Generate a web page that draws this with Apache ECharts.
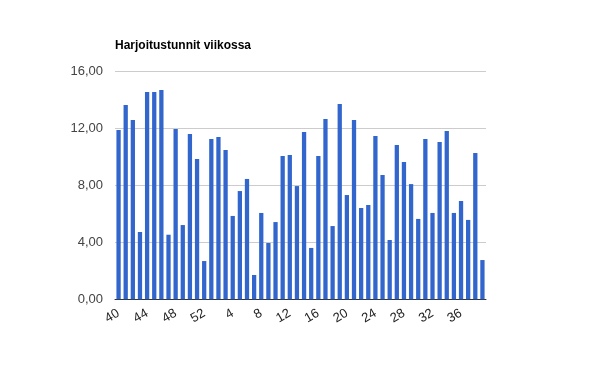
<!DOCTYPE html>
<html><head><meta charset="utf-8">
<script src="https://cdn.jsdelivr.net/npm/echarts@6/dist/echarts.min.js"></script>
<style>html,body{margin:0;padding:0;background:#fff}#c{width:600px;height:371px}</style>
</head><body><div id="c"></div>
<script>
var weeks = [40,41,42,43,44,45,46,47,48,49,50,51,52,1,2,3,4,5,6,7,8,9,10,11,12,13,14,15,16,17,18,19,20,21,22,23,24,25,26,27,28,29,30,31,32,33,34,35,36,37,38,39];
var hours = [11.90,13.66,12.60,4.73,14.57,14.57,14.71,4.54,11.97,5.22,11.62,9.86,2.69,11.27,11.41,10.49,5.86,7.61,8.46,1.71,6.07,3.96,5.43,10.07,10.14,7.96,11.76,3.61,10.07,12.67,5.15,13.73,7.33,12.60,6.42,6.63,11.48,8.74,4.17,10.85,9.65,8.10,5.65,11.27,6.07,11.06,11.83,6.07,6.91,5.58,10.28,2.76];
var yTicks = [0,4,8,12,16];
var chart = echarts.init(document.getElementById('c'));
chart.setOption({
  animation:false,
  title:{text:'Harjoitustunnit viikossa',left:110,top:35,textStyle:{fontFamily:'Liberation Sans',fontSize:12,fontWeight:'bold',color:'#000'}},
  grid:{left:115,right:114,top:71.7,bottom:71.7,containLabel:false},
  xAxis:{type:'category',data:weeks.map(String),
    axisLine:{lineStyle:{color:'#333',width:1}},axisTick:{show:false},
    axisLabel:{interval:3,rotate:30,fontFamily:'Liberation Sans',fontSize:13,color:'#222',margin:13}},
  yAxis:{type:'value',min:yTicks[0],max:yTicks[yTicks.length-1],interval:4,
    axisLine:{show:false},axisTick:{show:false},
    splitLine:{lineStyle:{color:'#cccccc'}},
    axisLabel:{fontFamily:'Liberation Sans',fontSize:13,color:'#444',margin:12,
      formatter:function(v){return v.toFixed(2).replace('.',',');}}},
  series:[{type:'bar',data:hours,barCategoryGap:'40%',itemStyle:{color:'#3366cc'}}]
});
</script></body></html>
